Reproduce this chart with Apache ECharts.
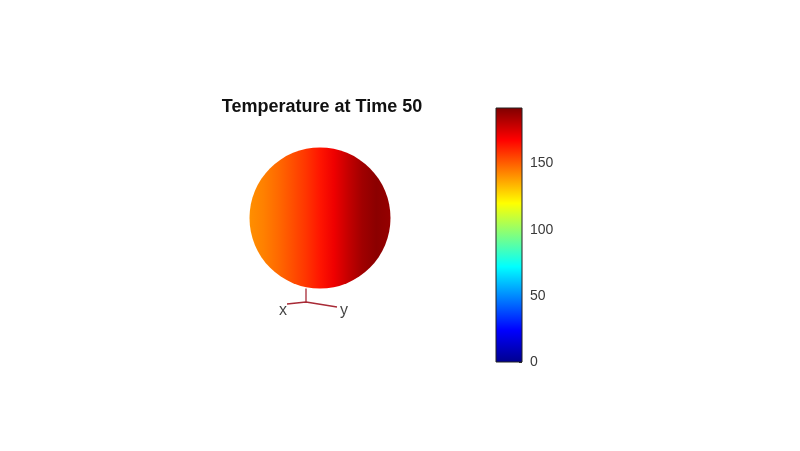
<!DOCTYPE html>
<html>
<head>
<meta charset="utf-8">
<script src="https://cdn.jsdelivr.net/npm/echarts@6/dist/echarts.min.js"></script>
<style>
  html, body { margin: 0; padding: 0; background: #fff; }
  #chart { width: 800px; height: 451px; }
</style>
</head>
<body>
<div id="chart"></div>
<script>
// colour scale of the colourbar
const colorMin = 0
const colorMax = 192
const tickValues = [0, 50, 100, 150]

// temperature read across the sphere, left edge -> right edge
const surfaceTemps = [141, 144, 148, 153, 158, 164, 171, 179, 186, 190, 188]

// MATLAB jet anchors (position, rgb)
const jetPos = [0, 0.125, 0.375, 0.625, 0.875, 1]
const jetRgb = [[0, 0, 143], [0, 0, 255], [0, 255, 255], [255, 255, 0], [255, 0, 0], [128, 0, 0]]

// orientation triad under the sphere
const triadStem = [[-0.14, -0.705], [-0.14, -0.84]]
const triadArms = [[-0.33, -0.86], [-0.14, -0.84], [0.17, -0.89]]
const triadLabels = [[-0.37, -0.93, 'x'], [0.24, -0.93, 'y']]

const jet = (v) => {
  const t = Math.min(1, Math.max(0, (v - colorMin) / (colorMax - colorMin)))
  let i = 0
  while (i < jetPos.length - 2 && t > jetPos[i + 1]) i++
  const f = (t - jetPos[i]) / (jetPos[i + 1] - jetPos[i])
  const c = jetRgb[i].map((a, k) => Math.round(a + (jetRgb[i + 1][k] - a) * f))
  return 'rgb(' + c.join(',') + ')'
}

const sphereFill = new echarts.graphic.LinearGradient(0, 0, 1, 0,
  surfaceTemps.map((v, i) => ({ offset: i / (surfaceTemps.length - 1), color: jet(v) })))

const barFill = new echarts.graphic.LinearGradient(0, 0, 0, 1,
  jetPos.map((p, i) => ({ offset: 1 - p, color: 'rgb(' + jetRgb[i].join(',') + ')' })).reverse())

const chart = echarts.init(document.getElementById('chart'))
chart.setOption({
  animation: false,
  backgroundColor: '#fff',
  title: {
    text: 'Temperature at Time 50',
    left: 317,
    textAlign: 'center',
    top: 93,
    textStyle: { fontFamily: 'Liberation Sans', fontSize: 18, fontWeight: 'bold', color: '#111' }
  },
  grid: [
    { left: 220, top: 118, width: 200, height: 200 },
    { left: 496, top: 108, width: 26, height: 254, show: true, borderColor: '#222', borderWidth: 1, backgroundColor: 'transparent', z: 5 }
  ],
  xAxis: [
    { gridIndex: 0, type: 'value', min: -1, max: 1, show: false },
    { gridIndex: 1, type: 'category', data: ['T'], show: false }
  ],
  yAxis: [
    { gridIndex: 0, type: 'value', min: -1, max: 1, show: false },
    {
      gridIndex: 1, type: 'value', min: colorMin, max: colorMax, interval: 50, position: 'right',
      axisLine: { show: false },
      axisTick: { show: true, inside: true, length: 3, lineStyle: { color: '#333' } },
      splitLine: { show: false },
      axisLabel: {
        margin: 8, fontFamily: 'Liberation Sans', fontSize: 14, color: '#3a3a3a',
        formatter: (v) => (tickValues.includes(v) ? String(v) : '')
      }
    }
  ],
  series: [
    {
      type: 'scatter', xAxisIndex: 0, yAxisIndex: 0,
      data: [[0, 0]], symbol: 'circle', symbolSize: 141,
      itemStyle: { color: sphereFill, opacity: 1 },
      silent: true
    },
    {
      type: 'line', xAxisIndex: 0, yAxisIndex: 0, data: triadStem,
      symbol: 'none', lineStyle: { color: '#a82a36', width: 1.3 }, silent: true
    },
    {
      type: 'line', xAxisIndex: 0, yAxisIndex: 0, data: triadArms,
      symbol: 'none', lineStyle: { color: '#a82a36', width: 1.3 }, silent: true
    },
    {
      type: 'scatter', xAxisIndex: 0, yAxisIndex: 0, data: triadLabels,
      symbolSize: 0, silent: true,
      label: {
        show: true, position: 'inside', formatter: (p) => p.data[2],
        fontFamily: 'Liberation Sans', fontSize: 16, color: '#111'
      }
    },
    {
      type: 'bar', xAxisIndex: 1, yAxisIndex: 1, data: [colorMax],
      barWidth: '100%', itemStyle: { color: barFill }, silent: true
    }
  ]
})
</script>
</body>
</html>
